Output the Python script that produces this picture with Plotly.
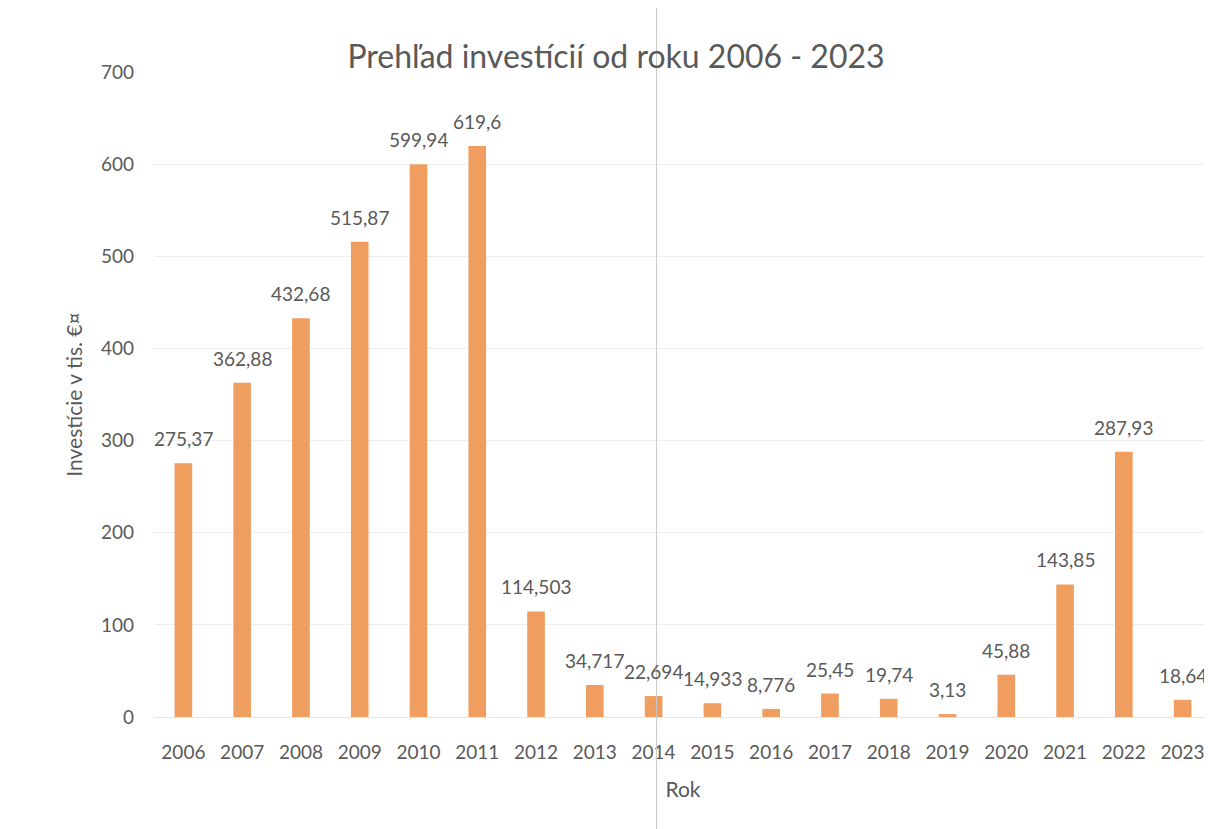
import plotly.graph_objects as go

years = ["2006", "2007", "2008", "2009", "2010", "2011", "2012", "2013", "2014",
         "2015", "2016", "2017", "2018", "2019", "2020", "2021", "2022", "2023"]
values = [275.37, 362.88, 432.68, 515.87, 599.94, 619.6, 114.503, 34.717, 22.694,
          14.933, 8.776, 25.45, 19.74, 3.13, 45.88, 143.85, 287.93, 18.64]
labels = [str(v).replace(".", ",") for v in values]

font_fam = "Lato, 'Open Sans', sans-serif"
grey = "#595959"

fig = go.Figure(go.Bar(
    x=years, y=values,
    marker=dict(color="#F09D60", line=dict(width=0)),
    cliponaxis=False,
))

# on a category axis, annotation x is the category index
for i, (v, lab) in enumerate(zip(values, labels)):
    fig.add_annotation(x=i, y=v, text=lab, showarrow=False, yanchor="bottom",
                       yshift=11, font=dict(size=19, color=grey, family=font_fam))

fig.update_layout(
    width=1204, height=821,
    paper_bgcolor="white", plot_bgcolor="white",
    margin=dict(l=146, r=0, t=64, b=112),
    bargap=0.7,
    showlegend=False,
    font=dict(family=font_fam, color=grey),
    title=dict(text="Prehľad investícií od roku 2006 - 2023", x=0.505, xanchor="center",
               y=0.94, yanchor="middle", font=dict(size=32, color=grey, family=font_fam)),
    xaxis=dict(type="category", categoryorder="array", categoryarray=years,
               range=[-0.5, len(years) - 0.5],
               title=dict(text="Rok", font=dict(size=21, color=grey), standoff=20),
               tickfont=dict(size=19, color=grey), showgrid=False, ticks="",
               ticklabelstandoff=18,
               showline=True, linecolor="#E6E6E6", linewidth=1),
    yaxis=dict(title=dict(text="Investície v tis. €¤", font=dict(size=21, color=grey), standoff=12),
               range=[0, 700], dtick=100, tickfont=dict(size=19, color=grey),
               ticklabelstandoff=19,
               showgrid=True, gridcolor="#EDEDED", gridwidth=1, zeroline=False, ticks=""),
)

fig.add_shape(type="line", xref="paper", yref="paper", x0=0.475, x1=0.475, y0=-0.2, y1=1.1,
              line=dict(color="#C8C8C8", width=1))

fig.write_html("out.html")
